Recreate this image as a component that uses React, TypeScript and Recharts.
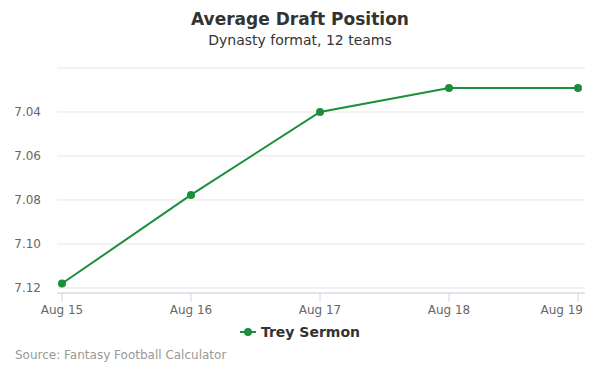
import React from "react";
import { LineChart, Line, XAxis, YAxis, CartesianGrid } from "recharts";

const dates = ["Aug 15", "Aug 16", "Aug 17", "Aug 18", "Aug 19"];
const adpValues = [7.118, 7.0777, 7.04, 7.0291, 7.0291];
const yTicks = [7.02, 7.04, 7.06, 7.08, 7.1, 7.12];
const seriesName = "Trey Sermon";

const data = dates.map((d, i) => ({ date: d, adp: adpValues[i] }));

const FONT = '"DejaVu Sans", sans-serif';
const GREEN = "#1b8f3b";

const YTick = (props: any) => {
  const { y, payload } = props;
  if (payload.value === 7.02) return null;
  return (
    <text x={41} y={y} dy={4} textAnchor="end" fill="#666" fontSize={12} fontFamily={FONT}>
      {payload.value.toFixed(2)}
    </text>
  );
};

const XTick = (props: any) => {
  const { x, y, payload, index } = props;
  const isLast = index === dates.length - 1;
  return (
    <text
      x={isLast ? x + 5 : x}
      y={y + 10}
      textAnchor={isLast ? "end" : "middle"}
      fill="#666"
      fontSize={12}
      fontFamily={FONT}
    >
      {payload.value}
    </text>
  );
};

export default function App() {
  return (
    <div style={{ position: "absolute", left: 0, top: 0, width: 600, height: 375, background: "#fff", fontFamily: FONT }}>
      <div style={{ position: "absolute", top: 9, width: 600, textAlign: "center", fontSize: 17, fontWeight: "bold", color: "#333" }}>
        Average Draft Position
      </div>
      <div style={{ position: "absolute", top: 32, width: 600, textAlign: "center", fontSize: 14, color: "#333" }}>
        Dynasty format, 12 teams
      </div>
      <div style={{ position: "absolute", top: 0, left: 0 }}>
        <LineChart width={600} height={375} data={data} margin={{ top: 68, right: 15, bottom: 52, left: 0 }}>
          <CartesianGrid vertical={false} stroke="#e6e6e6" />
          <XAxis
            dataKey="date"
            padding={{ left: 5, right: 7 }}
            axisLine={{ stroke: "#ccd6eb" }}
            tickLine={{ stroke: "#ccd6eb" }}
            tickSize={9}
            tick={<XTick />}
            height={30}
            interval={0}
          />
          <YAxis
            width={57}
            reversed
            domain={[7.02, 7.1223]}
            ticks={yTicks}
            axisLine={false}
            tickLine={false}
            tick={<YTick />}
            allowDataOverflow
          />
          <Line
            type="linear"
            dataKey="adp"
            name={seriesName}
            stroke={GREEN}
            strokeWidth={2}
            dot={{ r: 4, fill: GREEN, stroke: GREEN, strokeWidth: 0 }}
            isAnimationActive={false}
          />
        </LineChart>
      </div>
      <div style={{ position: "absolute", top: 324, left: 0, width: 600, display: "flex", justifyContent: "center", alignItems: "center" }}>
        <svg width={16} height={12} style={{ marginRight: 5 }}>
          <line x1={0} y1={6} x2={16} y2={6} stroke={GREEN} strokeWidth={2} />
          <circle cx={8} cy={6} r={4} fill={GREEN} />
        </svg>
        <span style={{ fontSize: 14, fontWeight: "bold", color: "#333" }}>{seriesName}</span>
      </div>
      <div style={{ position: "absolute", top: 348, left: 15, fontSize: 12, color: "#999" }}>
        Source: Fantasy Football Calculator
      </div>
    </div>
  );
}
